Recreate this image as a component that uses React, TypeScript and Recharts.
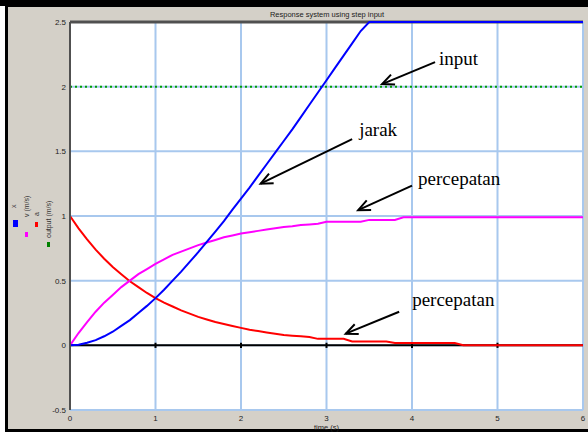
import React from 'react'
import {
  LineChart,
  Line,
  XAxis,
  YAxis,
  CartesianGrid,
  ReferenceLine,
} from 'recharts'

// time axis, 0.1 s steps
const time = [
  0, 0.1, 0.2, 0.3, 0.4, 0.5, 0.6, 0.7, 0.8, 0.9,
  1, 1.1, 1.2, 1.3, 1.4, 1.5, 1.6, 1.7, 1.8, 1.9,
  2, 2.1, 2.2, 2.3, 2.4, 2.5, 2.6, 2.7, 2.8, 2.9,
  3, 3.1, 3.2, 3.3, 3.4, 3.5, 3.6, 3.7, 3.8, 3.9,
  4, 4.1, 4.2, 4.3, 4.4, 4.5, 4.6, 4.7, 4.8, 4.9,
  5, 5.1, 5.2, 5.3, 5.4, 5.5, 5.6, 5.7, 5.8, 5.9, 6,
]

// jarak (x)
const jarak = [
  0, 0.005, 0.02, 0.04, 0.07, 0.105, 0.15, 0.195, 0.25, 0.305,
  0.365, 0.43, 0.5, 0.57, 0.645, 0.72, 0.8, 0.88, 0.96, 1.05,
  1.135, 1.22, 1.31, 1.4, 1.49, 1.58, 1.67, 1.765, 1.86, 1.955,
  2.05, 2.145, 2.24, 2.335, 2.43, 2.5, 2.5, 2.5, 2.5, 2.5,
  2.5, 2.5, 2.5, 2.5, 2.5, 2.5, 2.5, 2.5, 2.5, 2.5,
  2.5, 2.5, 2.5, 2.5, 2.5, 2.5, 2.5, 2.5, 2.5, 2.5, 2.5,
]

// kecepatan v (m/s)
const kecepatan = [
  0, 0.095, 0.18, 0.26, 0.33, 0.39, 0.45, 0.5, 0.55, 0.59,
  0.63, 0.665, 0.7, 0.725, 0.75, 0.775, 0.795, 0.815, 0.835, 0.85,
  0.865, 0.875, 0.885, 0.895, 0.905, 0.915, 0.92, 0.93, 0.935, 0.94,
  0.955, 0.955, 0.955, 0.955, 0.955, 0.97, 0.97, 0.97, 0.97, 0.99,
  0.99, 0.99, 0.99, 0.99, 0.99, 0.99, 0.99, 0.99, 0.99, 0.99,
  0.99, 0.99, 0.99, 0.99, 0.99, 0.99, 0.99, 0.99, 0.99, 0.99, 0.99,
]

// percepatan a
const percepatan = [
  1, 0.905, 0.82, 0.74, 0.67, 0.605, 0.55, 0.495, 0.45, 0.405,
  0.365, 0.33, 0.3, 0.27, 0.245, 0.22, 0.2, 0.18, 0.165, 0.15,
  0.135, 0.12, 0.11, 0.1, 0.09, 0.08, 0.075, 0.07, 0.065, 0.05,
  0.05, 0.05, 0.05, 0.03, 0.03, 0.03, 0.03, 0.03, 0.018, 0.018,
  0.018, 0.018, 0.018, 0.018, 0.018, 0.018, 0, 0, 0, 0,
  0, 0, 0, 0, 0, 0, 0, 0, 0, 0, 0,
]

const inputLevel = 2

const xTicks = [0, 1, 2, 3, 4, 5, 6]
const yTicks = [-0.5, 0, 0.5, 1, 1.5, 2, 2.5]
const zeroMarks = [1, 2, 3, 4, 5]

// annotation arrows: tail -> head, in data units
const notes = [
  { text: 'input', from: [4.27, 2.19], to: [3.65, 2.02], dx: 4, dy: 3 },
  { text: 'jarak', from: [3.3, 1.595], to: [2.23, 1.25], dx: 7, dy: -3 },
  { text: 'percepatan', from: [4.0, 1.235], to: [3.37, 1.045], dx: 6, dy: -1 },
  { text: 'percepatan', from: [3.85, 0.26], to: [3.225, 0.09], dx: 13, dy: -6 },
]

const legendItems = [
  { label: 'x', color: '#0000ff' },
  { label: 'v (m/s)', color: '#ff00ff' },
  { label: 'a', color: '#ff0000' },
  { label: 'output (m/s)', color: '#008000' },
]

const data = time.map((t, i) => ({
  t,
  x: jarak[i],
  v: kecepatan[i],
  a: percepatan[i],
  input: inputLevel,
}))

const tickFont = { fontSize: 8, fill: '#222', fontFamily: 'Liberation Sans, Arial, sans-serif' }

function arrowShape(text: string, dx: number, dy: number) {
  return (p: any) => {
    const { x1, y1, x2, y2 } = p
    if ([x1, y1, x2, y2].some((v) => v == null || isNaN(v))) return <g />
    const ang = Math.atan2(y1 - y2, x1 - x2)
    const len = 13
    const spread = 0.42
    const ax = x2 + len * Math.cos(ang + spread)
    const ay = y2 + len * Math.sin(ang + spread)
    const bx = x2 + len * Math.cos(ang - spread)
    const by = y2 + len * Math.sin(ang - spread)
    return (
      <g>
        <line x1={x1} y1={y1} x2={x2} y2={y2} stroke="#000" strokeWidth={2} />
        <polyline points={`${ax},${ay} ${x2},${y2} ${bx},${by}`} fill="none" stroke="#000" strokeWidth={2} />
        <text x={x1 + dx} y={y1 + dy} fontSize={19} fontFamily="Liberation Serif, Times New Roman, serif" fill="#000">
          {text}
        </text>
      </g>
    )
  }
}

function SideLegend() {
  // rotated labels + small swatches in the grey margin
  const cols = [
    { tx: 16, ty: 208, rx: 13, ry: 220, w: 5, h: 7 },
    { tx: 28.5, ty: 217, rx: 25, ry: 232, w: 3, h: 5 },
    { tx: 39, ty: 216, rx: 35, ry: 222, w: 3, h: 5 },
    { tx: 50.5, ty: 238, rx: 47, ry: 242, w: 3, h: 5 },
  ]
  return (
    <svg width={70} height={435} style={{ position: 'absolute', left: 0, top: 0 }}>
      {legendItems.map((it, i) => {
        const c = cols[i]
        return (
          <g key={it.label}>
            <text
              x={c.tx}
              y={c.ty}
              transform={`rotate(-90 ${c.tx} ${c.ty})`}
              fontSize={7}
              fontFamily="Liberation Sans, Arial, sans-serif"
              fill="#333"
            >
              {it.label}
            </text>
            <rect x={c.rx} y={c.ry} width={c.w} height={c.h} fill={it.color} />
          </g>
        )
      })}
    </svg>
  )
}

export default function App() {
  return (
    <div style={{ position: 'absolute', left: 0, top: 0, width: 588, height: 435, background: '#fff', overflow: 'hidden' }}>
      <div
        style={{
          position: 'absolute',
          left: 5,
          top: 0,
          width: 583,
          height: 432,
          boxSizing: 'border-box',
          background: '#d4d0c8',
          borderTop: '7px solid #000',
          borderLeft: '3px solid #000',
          borderBottom: '3px solid #000',
        }}
      />
      <div style={{ position: 'absolute', left: 0, top: 0, width: 588, height: 6, background: '#000' }} />
      <div style={{ position: 'absolute', left: 0, top: 0 }}>
        <LineChart width={588} height={435} data={data} margin={{ top: 22, right: 5, left: 30, bottom: 0 }}>
          <CartesianGrid stroke="#a8c8ee" strokeWidth={2} fill="#fff" />
          <XAxis
            dataKey="t"
            type="number"
            domain={[0, 6]}
            ticks={xTicks}
            height={25}
            axisLine={false}
            tickLine={false}
            tickSize={0}
            tickMargin={5}
            tick={tickFont}
            label={{ value: 'time (s)', position: 'insideBottom', offset: 5, style: { ...tickFont, fontSize: 7.5 } }}
          />
          <YAxis
            type="number"
            domain={[-0.5, 2.5]}
            ticks={yTicks}
            width={40}
            axisLine={{ stroke: '#505050', strokeWidth: 2 }}
            tickLine={false}
            tickSize={0}
            tickMargin={4}
            tick={tickFont}
          />
          <ReferenceLine y={2.5} stroke="#505050" strokeWidth={3} />
          <ReferenceLine y={0} stroke="#000" strokeWidth={2} />
          {zeroMarks.map((k) => (
            <ReferenceLine key={k} segment={[{ x: k, y: -0.02 }, { x: k, y: 0.02 }]} stroke="#000" strokeWidth={2} />
          ))}
          <Line dataKey="input" stroke="#00a000" strokeWidth={2} strokeDasharray="2 3" dot={false} isAnimationActive={false} />
          <Line dataKey="a" stroke="#ff0000" strokeWidth={2} dot={false} isAnimationActive={false} />
          <Line dataKey="v" stroke="#ff00ff" strokeWidth={2} dot={false} isAnimationActive={false} />
          <Line dataKey="x" stroke="#0000ff" strokeWidth={2} dot={false} isAnimationActive={false} />
          {notes.map((n, i) => (
            <ReferenceLine
              key={i}
              segment={[{ x: n.from[0], y: n.from[1] }, { x: n.to[0], y: n.to[1] }]}
              shape={arrowShape(n.text, n.dx, n.dy)}
            />
          ))}
          <text
            x={327}
            y={17}
            textAnchor="middle"
            fontSize={7.5}
            fontFamily="Liberation Sans, Arial, sans-serif"
            fill="#222"
          >
            Response system using step input
          </text>
        </LineChart>
      </div>
      <SideLegend />
    </div>
  )
}
